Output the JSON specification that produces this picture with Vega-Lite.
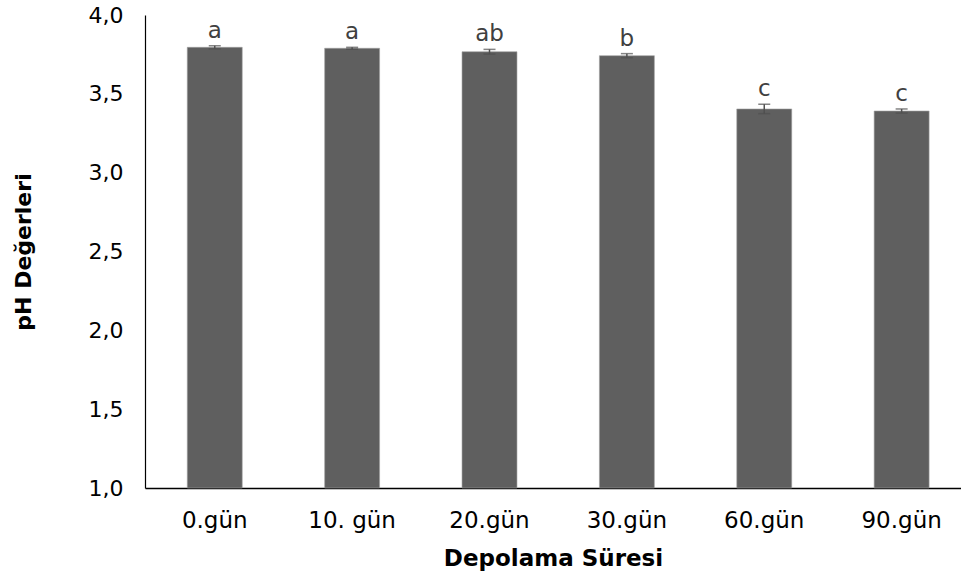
{
  "$schema": "https://vega.github.io/schema/vega-lite/v6.json",
  "width": 816,
  "height": 473,
  "autosize": {"type": "none"},
  "padding": {"left": 145, "top": 15, "right": 0, "bottom": 90},
  "background": "white",
  "config": {
    "view": {"stroke": null},
    "font": "DejaVu Sans"
  },
  "data": {
    "values": [
      {"gun": "0.gün", "ph": 3.795, "err": 0.010, "grup": "a"},
      {"gun": "10. gün", "ph": 3.789, "err": 0.006, "grup": "a"},
      {"gun": "20.gün", "ph": 3.767, "err": 0.015, "grup": "ab"},
      {"gun": "30.gün", "ph": 3.742, "err": 0.013, "grup": "b"},
      {"gun": "60.gün", "ph": 3.404, "err": 0.030, "grup": "c"},
      {"gun": "90.gün", "ph": 3.391, "err": 0.013, "grup": "c"}
    ]
  },
  "transform": [
    {"calculate": "datum.ph - datum.err", "as": "alt"},
    {"calculate": "datum.ph + datum.err", "as": "ust"}
  ],
  "encoding": {
    "x": {
      "field": "gun",
      "type": "nominal",
      "sort": null,
      "scale": {"paddingInner": 0.6, "paddingOuter": 0.27, "align": 0.57},
      "axis": {
        "title": "Depolama Süresi",
        "titleFontSize": 23,
        "titleFontWeight": "bold",
        "titleColor": "#000000",
        "titlePadding": 15,
        "labelAngle": 0,
        "labelFontSize": 23,
        "labelColor": "#000000",
        "labelPadding": 21,
        "ticks": false,
        "domainColor": "#000000",
        "domainWidth": 1.5,
        "grid": false
      }
    }
  },
  "layer": [
    {
      "mark": {"type": "bar", "color": "#5f5f5f", "stroke": "#a0a0a0", "strokeWidth": 0.6},
      "encoding": {
        "y": {
          "field": "ph",
          "type": "quantitative",
          "scale": {"domain": [1, 4], "nice": false, "zero": false},
          "axis": {
            "title": "pH Değerleri",
            "titleFontSize": 22,
            "titleFontWeight": "bold",
            "titleColor": "#000000",
            "titlePadding": 53,
            "values": [1, 1.5, 2, 2.5, 3, 3.5, 4],
            "labelExpr": "replace(format(datum.value, '.1f'), '.', ',')",
            "labelFontSize": 22,
            "labelColor": "#000000",
            "labelPadding": 22,
            "ticks": false,
            "grid": false,
            "domainColor": "#000000",
            "domainWidth": 1.2
          }
        },
        "y2": {"datum": 1}
      }
    },
    {
      "mark": {"type": "rule", "color": "#505050", "strokeWidth": 1.5},
      "encoding": {
        "y": {"field": "alt", "type": "quantitative"},
        "y2": {"field": "ust"}
      }
    },
    {
      "mark": {"type": "tick", "color": "#505050", "size": 12, "thickness": 1.5},
      "encoding": {"y": {"field": "ust", "type": "quantitative"}}
    },
    {
      "mark": {"type": "tick", "color": "#505050", "size": 12, "thickness": 1.5},
      "encoding": {"y": {"field": "alt", "type": "quantitative"}}
    },
    {
      "mark": {"type": "text", "fontSize": 23, "color": "#404040", "baseline": "alphabetic", "dy": -8},
      "encoding": {
        "y": {"field": "ust", "type": "quantitative"},
        "text": {"field": "grup"}
      }
    }
  ]
}
